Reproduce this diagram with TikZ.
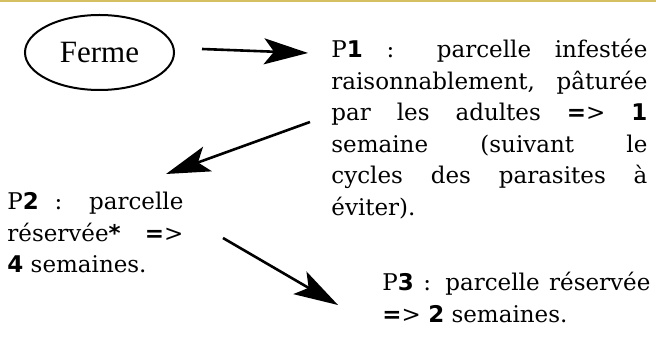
\documentclass[tikz,border=0pt]{standalone}
\usepackage{fontspec}
\setmainfont{DejaVu Serif}
\setsansfont{DejaVu Sans}
\newfontfamily\fermefont{Liberation Serif}
\usepackage{tikz}
\usetikzlibrary{arrows.meta,shapes}
\definecolor{bandeau}{RGB}{214,190,98}
\newcommand{\chif}[1]{{\sffamily\bfseries #1}}
\tikzstyle{ferme}=[ellipse,draw,line width=1pt,minimum width=74.5pt,minimum height=37.5pt,inner sep=0pt,font=\fermefont\fontsize{15.5pt}{18pt}\selectfont]
\tikzstyle{parcelle}=[anchor=north west,inner sep=0pt,align=justify,font=\fontsize{11.5pt}{15.75pt}\selectfont]
\tikzstyle{edge}=[draw,line width=1.3pt,-{Stealth[length=22pt,width=13pt,inset=5pt]}]

\begin{document}
\begin{tikzpicture}[x=0.5pt,y=-0.5pt]
          \useasboundingbox (0,0) rectangle (656,336);
          \fill[bandeau] (0,0) rectangle (656,2.5);
          \node[ferme] (f) at (99.5,52.5) {Ferme};
          \node[parcelle,text width=158pt] (p1) at (331,39) {P\chif{1} : parcelle infestée\linebreak
            raisonnablement, pâturée\linebreak
            par les adultes \chif{=}> \chif{1}\linebreak
            semaine (suivant le\linebreak
            cycles des parasites à\linebreak
            éviter).};
          \node[parcelle,text width=88pt] (p2) at (7,192) {P\chif{2} : parcelle\linebreak
            réservée\chif{*} \chif{=}>\linebreak
            \chif{4} semaines.};
          \node[parcelle,text width=134pt] (p3) at (382,272) {P\chif{3} : parcelle réservée\linebreak
            \chif{=}> \chif{2} semaines.};
          \coordinate (f1) at (202,49);
          \coordinate (p1a) at (308,53);
          \coordinate (p1b) at (310,122);
          \coordinate (p2a) at (166,174);
          \coordinate (p2b) at (223,238);
          \coordinate (p3a) at (338,305);
          \draw[edge] (f1) to (p1a);
          \draw[edge] (p1b) to (p2a);
          \draw[edge] (p2b) to (p3a);
\end{tikzpicture}
\end{document}
